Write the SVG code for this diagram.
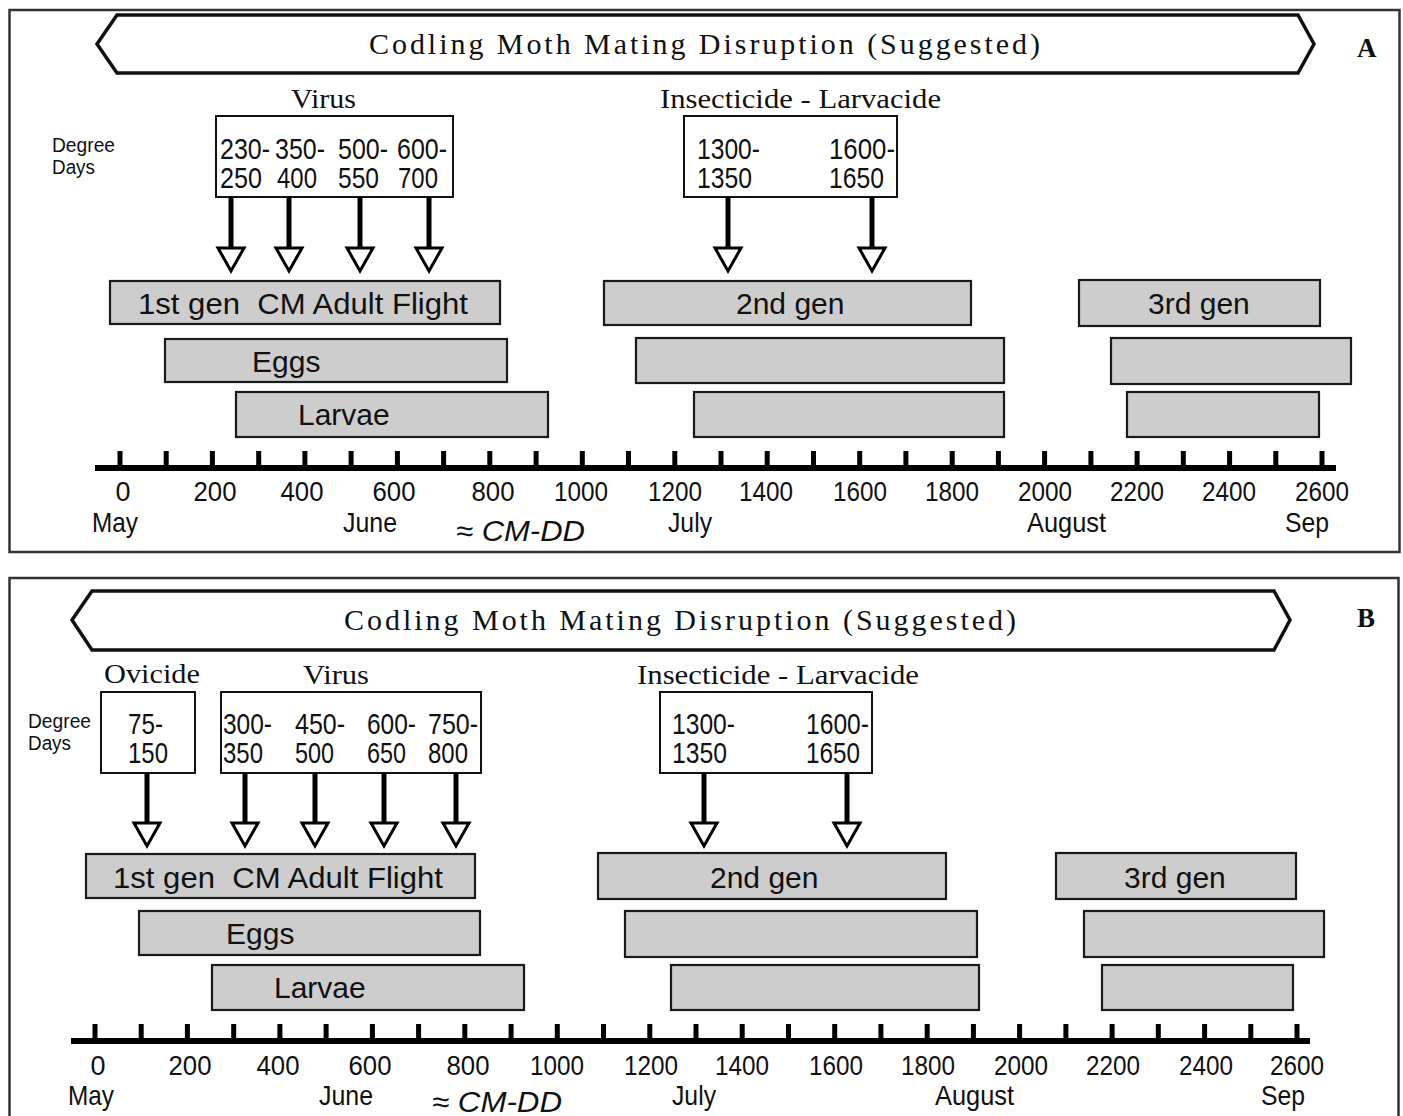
<svg xmlns="http://www.w3.org/2000/svg" width="1403" height="1116" viewBox="0 0 1403 1116">
<style>
.frame{fill:none;stroke:#333;stroke-width:2.5}
.banner{fill:#fff;stroke:#111;stroke-width:3.5;stroke-linejoin:miter}
.title{font-family:"Liberation Serif",serif;font-size:30px;fill:#111}
.serif{font-family:"Liberation Serif",serif;font-size:28px;fill:#111}
.panel{font-family:"Liberation Serif",serif;font-size:27px;font-weight:bold;fill:#111}
.dd{font-family:"Liberation Sans",sans-serif;font-size:20px;fill:#111}
.box{fill:#fff;stroke:#111;stroke-width:2}
.num{font-family:"Liberation Sans",sans-serif;font-size:30px;fill:#111}
.bar{fill:#cdcdcd;stroke:#1a1a1a;stroke-width:2.2}
.bt{font-family:"Liberation Sans",sans-serif;font-size:30px;fill:#111;white-space:pre}
.ax{font-family:"Liberation Sans",sans-serif;font-size:28px;fill:#111;text-anchor:middle}
.mo{font-family:"Liberation Sans",sans-serif;font-size:28px;fill:#111}
.cmdd{font-family:"Liberation Sans",sans-serif;font-size:29px;font-style:italic;fill:#111}
.shaft{stroke:#000;stroke-width:5}
.head{fill:#fff;stroke:#000;stroke-width:3;stroke-linejoin:miter}
.tick{fill:#000}
</style>
<rect width="1403" height="1116" fill="#fff"/>

<!-- Panel A -->
<g id="panelA">
  <rect class="frame" x="9.5" y="10" width="1390" height="542"/>
  <g id="bannerA">
    <polygon class="banner" points="117,15 1298,15 1314,44 1298,73 117,73 97,44"/>
    <text class="title" x="369" y="54" textLength="671" lengthAdjust="spacing">Codling Moth Mating Disruption (Suggested)</text>
  </g>
  <text class="panel" x="1357" y="57">A</text>
  <text class="serif" x="291" y="108" textLength="65" lengthAdjust="spacingAndGlyphs">Virus</text>
  <text class="serif" x="660" y="108" textLength="281" lengthAdjust="spacingAndGlyphs">Insecticide - Larvacide</text>
  <text class="dd" x="52" y="152" textLength="63" lengthAdjust="spacingAndGlyphs">Degree</text>
  <text class="dd" x="52" y="174" textLength="43" lengthAdjust="spacingAndGlyphs">Days</text>
  <g id="virusBoxA">
    <rect class="box" x="216" y="116" width="237" height="81"/>
    <text class="num" x="220" y="159" textLength="50" lengthAdjust="spacingAndGlyphs">230-</text>
    <text class="num" x="220" y="188" textLength="42" lengthAdjust="spacingAndGlyphs">250</text>
    <text class="num" x="275" y="159" textLength="50" lengthAdjust="spacingAndGlyphs">350-</text>
    <text class="num" x="277" y="188" textLength="40" lengthAdjust="spacingAndGlyphs">400</text>
    <text class="num" x="338" y="159" textLength="50" lengthAdjust="spacingAndGlyphs">500-</text>
    <text class="num" x="338" y="188" textLength="41" lengthAdjust="spacingAndGlyphs">550</text>
    <text class="num" x="397" y="159" textLength="50" lengthAdjust="spacingAndGlyphs">600-</text>
    <text class="num" x="398" y="188" textLength="40" lengthAdjust="spacingAndGlyphs">700</text>
  </g>
  <g id="insectBoxA">
    <rect class="box" x="684" y="116" width="213" height="81"/>
    <text class="num" x="697" y="159" textLength="63" lengthAdjust="spacingAndGlyphs">1300-</text>
    <text class="num" x="697" y="188" textLength="55" lengthAdjust="spacingAndGlyphs">1350</text>
    <text class="num" x="829" y="159" textLength="66" lengthAdjust="spacingAndGlyphs">1600-</text>
    <text class="num" x="829" y="188" textLength="55" lengthAdjust="spacingAndGlyphs">1650</text>
  </g>
  <g id="barsA">
    <g id="gen1A"><rect class="bar" x="110" y="281" width="390" height="43"/><text class="bt" x="138" y="314" textLength="330" lengthAdjust="spacingAndGlyphs" xml:space="preserve">1st gen  CM Adult Flight</text></g>
    <g id="eggs1A"><rect class="bar" x="165" y="339" width="342" height="43"/><text class="bt" x="252" y="372">Eggs</text></g>
    <g id="larvae1A"><rect class="bar" x="236" y="392" width="312" height="45"/><text class="bt" x="298" y="425">Larvae</text></g>
    <g id="gen2A"><rect class="bar" x="604" y="281" width="367" height="44"/><text class="bt" x="736" y="314">2nd gen</text></g>
    <g id="eggs2A"><rect class="bar" x="636" y="338" width="368" height="45"/></g>
    <g id="larvae2A"><rect class="bar" x="694" y="392" width="310" height="45"/></g>
    <g id="gen3A"><rect class="bar" x="1079" y="280" width="241" height="46"/><text class="bt" x="1148" y="314">3rd gen</text></g>
    <g id="eggs3A"><rect class="bar" x="1111" y="338" width="240" height="46"/></g>
    <g id="larvae3A"><rect class="bar" x="1127" y="392" width="192" height="45"/></g>
  </g>
  <g id="axisA">
    <rect class="tick" x="95" y="465" width="1241" height="6"/>
    <g id="ticksA">
      <rect class="tick" x="117.5" y="451" width="5" height="16"/><rect class="tick" x="163.7" y="451" width="5" height="16"/><rect class="tick" x="209.9" y="451" width="5" height="16"/><rect class="tick" x="256.2" y="451" width="5" height="16"/><rect class="tick" x="302.4" y="451" width="5" height="16"/><rect class="tick" x="348.6" y="451" width="5" height="16"/><rect class="tick" x="394.9" y="451" width="5" height="16"/><rect class="tick" x="441.1" y="451" width="5" height="16"/><rect class="tick" x="487.3" y="451" width="5" height="16"/><rect class="tick" x="533.6" y="451" width="5" height="16"/><rect class="tick" x="579.8" y="451" width="5" height="16"/><rect class="tick" x="626.0" y="451" width="5" height="16"/><rect class="tick" x="672.3" y="451" width="5" height="16"/><rect class="tick" x="718.5" y="451" width="5" height="16"/><rect class="tick" x="764.7" y="451" width="5" height="16"/><rect class="tick" x="811.0" y="451" width="5" height="16"/><rect class="tick" x="857.2" y="451" width="5" height="16"/><rect class="tick" x="903.4" y="451" width="5" height="16"/><rect class="tick" x="949.7" y="451" width="5" height="16"/><rect class="tick" x="995.9" y="451" width="5" height="16"/><rect class="tick" x="1042.1" y="451" width="5" height="16"/><rect class="tick" x="1088.4" y="451" width="5" height="16"/><rect class="tick" x="1134.6" y="451" width="5" height="16"/><rect class="tick" x="1180.8" y="451" width="5" height="16"/><rect class="tick" x="1227.1" y="451" width="5" height="16"/><rect class="tick" x="1273.3" y="451" width="5" height="16"/><rect class="tick" x="1319.5" y="451" width="5" height="16"/>
    </g>
    <text class="ax" x="123" y="501" textLength="15" lengthAdjust="spacingAndGlyphs">0</text>
    <text class="ax" x="215" y="501" textLength="43" lengthAdjust="spacingAndGlyphs">200</text>
    <text class="ax" x="302" y="501" textLength="43" lengthAdjust="spacingAndGlyphs">400</text>
    <text class="ax" x="394" y="501" textLength="43" lengthAdjust="spacingAndGlyphs">600</text>
    <text class="ax" x="493" y="501" textLength="43" lengthAdjust="spacingAndGlyphs">800</text>
    <text class="ax" x="581" y="501" textLength="54" lengthAdjust="spacingAndGlyphs">1000</text>
    <text class="ax" x="675" y="501" textLength="54" lengthAdjust="spacingAndGlyphs">1200</text>
    <text class="ax" x="766" y="501" textLength="54" lengthAdjust="spacingAndGlyphs">1400</text>
    <text class="ax" x="860" y="501" textLength="54" lengthAdjust="spacingAndGlyphs">1600</text>
    <text class="ax" x="952" y="501" textLength="54" lengthAdjust="spacingAndGlyphs">1800</text>
    <text class="ax" x="1045" y="501" textLength="54" lengthAdjust="spacingAndGlyphs">2000</text>
    <text class="ax" x="1137" y="501" textLength="54" lengthAdjust="spacingAndGlyphs">2200</text>
    <text class="ax" x="1229" y="501" textLength="54" lengthAdjust="spacingAndGlyphs">2400</text>
    <text class="ax" x="1322" y="501" textLength="54" lengthAdjust="spacingAndGlyphs">2600</text>
    <text class="mo" x="92" y="532" textLength="46" lengthAdjust="spacingAndGlyphs">May</text>
    <text class="mo" x="343" y="532" textLength="54" lengthAdjust="spacingAndGlyphs">June</text>
    <text class="mo" x="668" y="532" textLength="44" lengthAdjust="spacingAndGlyphs">July</text>
    <text class="mo" x="1027" y="532" textLength="79" lengthAdjust="spacingAndGlyphs">August</text>
    <text class="mo" x="1285" y="532" textLength="44" lengthAdjust="spacingAndGlyphs">Sep</text>
    <text class="cmdd" x="456" y="541" textLength="129" lengthAdjust="spacingAndGlyphs">≈ CM-DD</text>
  </g>
</g>

<!-- Panel B -->
<g id="panelB">
  <rect class="frame" x="9.5" y="578" width="1389" height="545"/>
  <g id="bannerB">
    <polygon class="banner" points="92,591 1274,591 1290,620 1274,650 92,650 72,620"/>
    <text class="title" x="344" y="630" textLength="672" lengthAdjust="spacing">Codling Moth Mating Disruption (Suggested)</text>
  </g>
  <text class="panel" x="1357" y="627">B</text>
  <text class="serif" x="104" y="683" textLength="96" lengthAdjust="spacingAndGlyphs">Ovicide</text>
  <text class="serif" x="303" y="684" textLength="66" lengthAdjust="spacingAndGlyphs">Virus</text>
  <text class="serif" x="637" y="684" textLength="282" lengthAdjust="spacingAndGlyphs">Insecticide - Larvacide</text>
  <text class="dd" x="28" y="728" textLength="63" lengthAdjust="spacingAndGlyphs">Degree</text>
  <text class="dd" x="28" y="750" textLength="43" lengthAdjust="spacingAndGlyphs">Days</text>
  <g id="ovicideBoxB">
    <rect class="box" x="101" y="692" width="94" height="81"/>
    <text class="num" x="128" y="734" textLength="35" lengthAdjust="spacingAndGlyphs">75-</text>
    <text class="num" x="128" y="763" textLength="40" lengthAdjust="spacingAndGlyphs">150</text>
  </g>
  <g id="virusBoxB">
    <rect class="box" x="221" y="692" width="260" height="81"/>
    <text class="num" x="223" y="734" textLength="49" lengthAdjust="spacingAndGlyphs">300-</text>
    <text class="num" x="223" y="763" textLength="40" lengthAdjust="spacingAndGlyphs">350</text>
    <text class="num" x="295" y="734" textLength="50" lengthAdjust="spacingAndGlyphs">450-</text>
    <text class="num" x="295" y="763" textLength="39" lengthAdjust="spacingAndGlyphs">500</text>
    <text class="num" x="367" y="734" textLength="49" lengthAdjust="spacingAndGlyphs">600-</text>
    <text class="num" x="367" y="763" textLength="39" lengthAdjust="spacingAndGlyphs">650</text>
    <text class="num" x="428" y="734" textLength="50" lengthAdjust="spacingAndGlyphs">750-</text>
    <text class="num" x="428" y="763" textLength="40" lengthAdjust="spacingAndGlyphs">800</text>
  </g>
  <g id="insectBoxB">
    <rect class="box" x="660" y="692" width="212" height="81"/>
    <text class="num" x="672" y="734" textLength="63" lengthAdjust="spacingAndGlyphs">1300-</text>
    <text class="num" x="672" y="763" textLength="55" lengthAdjust="spacingAndGlyphs">1350</text>
    <text class="num" x="806" y="734" textLength="63" lengthAdjust="spacingAndGlyphs">1600-</text>
    <text class="num" x="806" y="763" textLength="54" lengthAdjust="spacingAndGlyphs">1650</text>
  </g>
  <g id="barsB">
    <g id="gen1B"><rect class="bar" x="86" y="854" width="389" height="44"/><text class="bt" x="113" y="888" textLength="330" lengthAdjust="spacingAndGlyphs" xml:space="preserve">1st gen  CM Adult Flight</text></g>
    <g id="eggs1B"><rect class="bar" x="139" y="911" width="341" height="44"/><text class="bt" x="226" y="944">Eggs</text></g>
    <g id="larvae1B"><rect class="bar" x="212" y="965" width="312" height="45"/><text class="bt" x="274" y="998">Larvae</text></g>
    <g id="gen2B"><rect class="bar" x="598" y="853" width="348" height="46"/><text class="bt" x="710" y="888">2nd gen</text></g>
    <g id="eggs2B"><rect class="bar" x="625" y="911" width="352" height="46"/></g>
    <g id="larvae2B"><rect class="bar" x="671" y="965" width="308" height="45"/></g>
    <g id="gen3B"><rect class="bar" x="1056" y="853" width="240" height="46"/><text class="bt" x="1124" y="888">3rd gen</text></g>
    <g id="eggs3B"><rect class="bar" x="1084" y="911" width="240" height="46"/></g>
    <g id="larvae3B"><rect class="bar" x="1102" y="965" width="191" height="45"/></g>
  </g>
  <g id="axisB">
    <rect class="tick" x="71" y="1038" width="1239" height="6"/>
    <g id="ticksB">
      <rect class="tick" x="92.5" y="1024" width="5" height="16"/><rect class="tick" x="138.7" y="1024" width="5" height="16"/><rect class="tick" x="184.9" y="1024" width="5" height="16"/><rect class="tick" x="231.2" y="1024" width="5" height="16"/><rect class="tick" x="277.4" y="1024" width="5" height="16"/><rect class="tick" x="323.6" y="1024" width="5" height="16"/><rect class="tick" x="369.9" y="1024" width="5" height="16"/><rect class="tick" x="416.1" y="1024" width="5" height="16"/><rect class="tick" x="462.3" y="1024" width="5" height="16"/><rect class="tick" x="508.6" y="1024" width="5" height="16"/><rect class="tick" x="554.8" y="1024" width="5" height="16"/><rect class="tick" x="601.0" y="1024" width="5" height="16"/><rect class="tick" x="647.3" y="1024" width="5" height="16"/><rect class="tick" x="693.5" y="1024" width="5" height="16"/><rect class="tick" x="739.7" y="1024" width="5" height="16"/><rect class="tick" x="786.0" y="1024" width="5" height="16"/><rect class="tick" x="832.2" y="1024" width="5" height="16"/><rect class="tick" x="878.4" y="1024" width="5" height="16"/><rect class="tick" x="924.7" y="1024" width="5" height="16"/><rect class="tick" x="970.9" y="1024" width="5" height="16"/><rect class="tick" x="1017.1" y="1024" width="5" height="16"/><rect class="tick" x="1063.4" y="1024" width="5" height="16"/><rect class="tick" x="1109.6" y="1024" width="5" height="16"/><rect class="tick" x="1155.8" y="1024" width="5" height="16"/><rect class="tick" x="1202.1" y="1024" width="5" height="16"/><rect class="tick" x="1248.3" y="1024" width="5" height="16"/><rect class="tick" x="1294.5" y="1024" width="5" height="16"/>
    </g>
    <text class="ax" x="98" y="1075" textLength="15" lengthAdjust="spacingAndGlyphs">0</text>
    <text class="ax" x="190" y="1075" textLength="43" lengthAdjust="spacingAndGlyphs">200</text>
    <text class="ax" x="278" y="1075" textLength="43" lengthAdjust="spacingAndGlyphs">400</text>
    <text class="ax" x="370" y="1075" textLength="43" lengthAdjust="spacingAndGlyphs">600</text>
    <text class="ax" x="468" y="1075" textLength="43" lengthAdjust="spacingAndGlyphs">800</text>
    <text class="ax" x="557" y="1075" textLength="54" lengthAdjust="spacingAndGlyphs">1000</text>
    <text class="ax" x="651" y="1075" textLength="54" lengthAdjust="spacingAndGlyphs">1200</text>
    <text class="ax" x="742" y="1075" textLength="54" lengthAdjust="spacingAndGlyphs">1400</text>
    <text class="ax" x="836" y="1075" textLength="54" lengthAdjust="spacingAndGlyphs">1600</text>
    <text class="ax" x="928" y="1075" textLength="54" lengthAdjust="spacingAndGlyphs">1800</text>
    <text class="ax" x="1021" y="1075" textLength="54" lengthAdjust="spacingAndGlyphs">2000</text>
    <text class="ax" x="1113" y="1075" textLength="54" lengthAdjust="spacingAndGlyphs">2200</text>
    <text class="ax" x="1206" y="1075" textLength="54" lengthAdjust="spacingAndGlyphs">2400</text>
    <text class="ax" x="1297" y="1075" textLength="54" lengthAdjust="spacingAndGlyphs">2600</text>
    <text class="mo" x="68" y="1105" textLength="46" lengthAdjust="spacingAndGlyphs">May</text>
    <text class="mo" x="319" y="1105" textLength="54" lengthAdjust="spacingAndGlyphs">June</text>
    <text class="mo" x="672" y="1105" textLength="44" lengthAdjust="spacingAndGlyphs">July</text>
    <text class="mo" x="935" y="1105" textLength="79" lengthAdjust="spacingAndGlyphs">August</text>
    <text class="mo" x="1261" y="1105" textLength="44" lengthAdjust="spacingAndGlyphs">Sep</text>
    <text class="cmdd" x="432" y="1112" textLength="130" lengthAdjust="spacingAndGlyphs">≈ CM-DD</text>
  </g>
</g>

<!-- Connectors -->
<g id="connectors">
  <g id="arrowsA">
    <line class="shaft" x1="231" y1="197" x2="231" y2="248"/><polygon class="head" points="218,248 244,248 231,271"/>
    <line class="shaft" x1="289" y1="197" x2="289" y2="248"/><polygon class="head" points="276,248 302,248 289,271"/>
    <line class="shaft" x1="360" y1="197" x2="360" y2="248"/><polygon class="head" points="347,248 373,248 360,271"/>
    <line class="shaft" x1="429" y1="197" x2="429" y2="248"/><polygon class="head" points="416,248 442,248 429,271"/>
    <line class="shaft" x1="728" y1="197" x2="728" y2="248"/><polygon class="head" points="715,248 741,248 728,271"/>
    <line class="shaft" x1="872" y1="197" x2="872" y2="248"/><polygon class="head" points="859,248 885,248 872,271"/>
  </g>
  <g id="arrowsB">
    <line class="shaft" x1="147" y1="773" x2="147" y2="823"/><polygon class="head" points="134,823 160,823 147,846"/>
    <line class="shaft" x1="245" y1="773" x2="245" y2="823"/><polygon class="head" points="232,823 258,823 245,846"/>
    <line class="shaft" x1="315" y1="773" x2="315" y2="823"/><polygon class="head" points="302,823 328,823 315,846"/>
    <line class="shaft" x1="384" y1="773" x2="384" y2="823"/><polygon class="head" points="371,823 397,823 384,846"/>
    <line class="shaft" x1="456" y1="773" x2="456" y2="823"/><polygon class="head" points="443,823 469,823 456,846"/>
    <line class="shaft" x1="704" y1="773" x2="704" y2="823"/><polygon class="head" points="691,823 717,823 704,846"/>
    <line class="shaft" x1="847" y1="773" x2="847" y2="823"/><polygon class="head" points="834,823 860,823 847,846"/>
  </g>
</g>
</svg>
